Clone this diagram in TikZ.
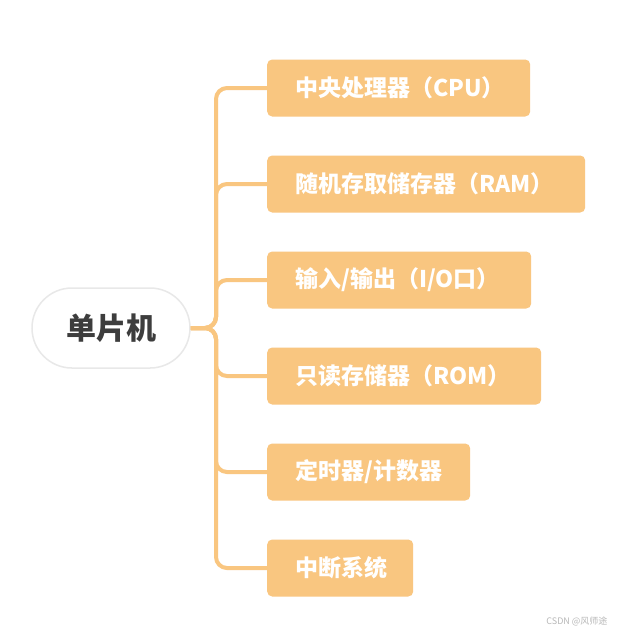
\documentclass[tikz,border=0pt]{standalone}
\usepackage{fontspec}
\newfontfamily\cjk{Noto Sans CJK SC}
\definecolor{branchcol}{RGB}{249,198,128}
\definecolor{rootcol}{RGB}{61,61,61}

\begin{document}
\begin{tikzpicture}[x=1pt,y=-1pt,
    leaf/.style={fill=branchcol,rounded corners=5pt,anchor=west,minimum height=57pt,
      inner xsep=28pt,align=left,text=white,font=\cjk\bfseries\fontsize{23}{26}\selectfont},
    branch/.style={draw=branchcol,line width=4pt,rounded corners=11pt}]
  \fill[white] (0,0) rectangle (636,633);
  \useasboundingbox (0,0) rectangle (636,633);
  \node[fill=white,draw=black!9,line width=1.5pt,rounded corners=40pt,minimum width=158pt,
    minimum height=80pt,text=rootcol,font=\cjk\bfseries\fontsize{30}{33}\selectfont]
    (root) at (111,328) {单片机};
  \coordinate (brace) at (216,328);
  \foreach \nm/\y/\w/\txt in {cpu/88/263/{中央处理器（CPU）},ram/184/318/{随机存取储存器（RAM）},
      io/280/264/{输入/输出（I/O口）},rom/376/274/{只读存储器（ROM）},
      timer/472/203/{定时器/计数器},intr/568/146/{中断系统}}
    {
      \node[leaf,text width=\w pt-56pt] (\nm) at (267,\y) {\txt};
      \draw[branch] (root.east) -- (brace) |- (\nm.west);
    }
  \node[anchor=east,text=black!28,font=\cjk\fontsize{9}{10}\selectfont] (mark) at (611,621) {CSDN @风师途};
\end{tikzpicture}
\end{document}
